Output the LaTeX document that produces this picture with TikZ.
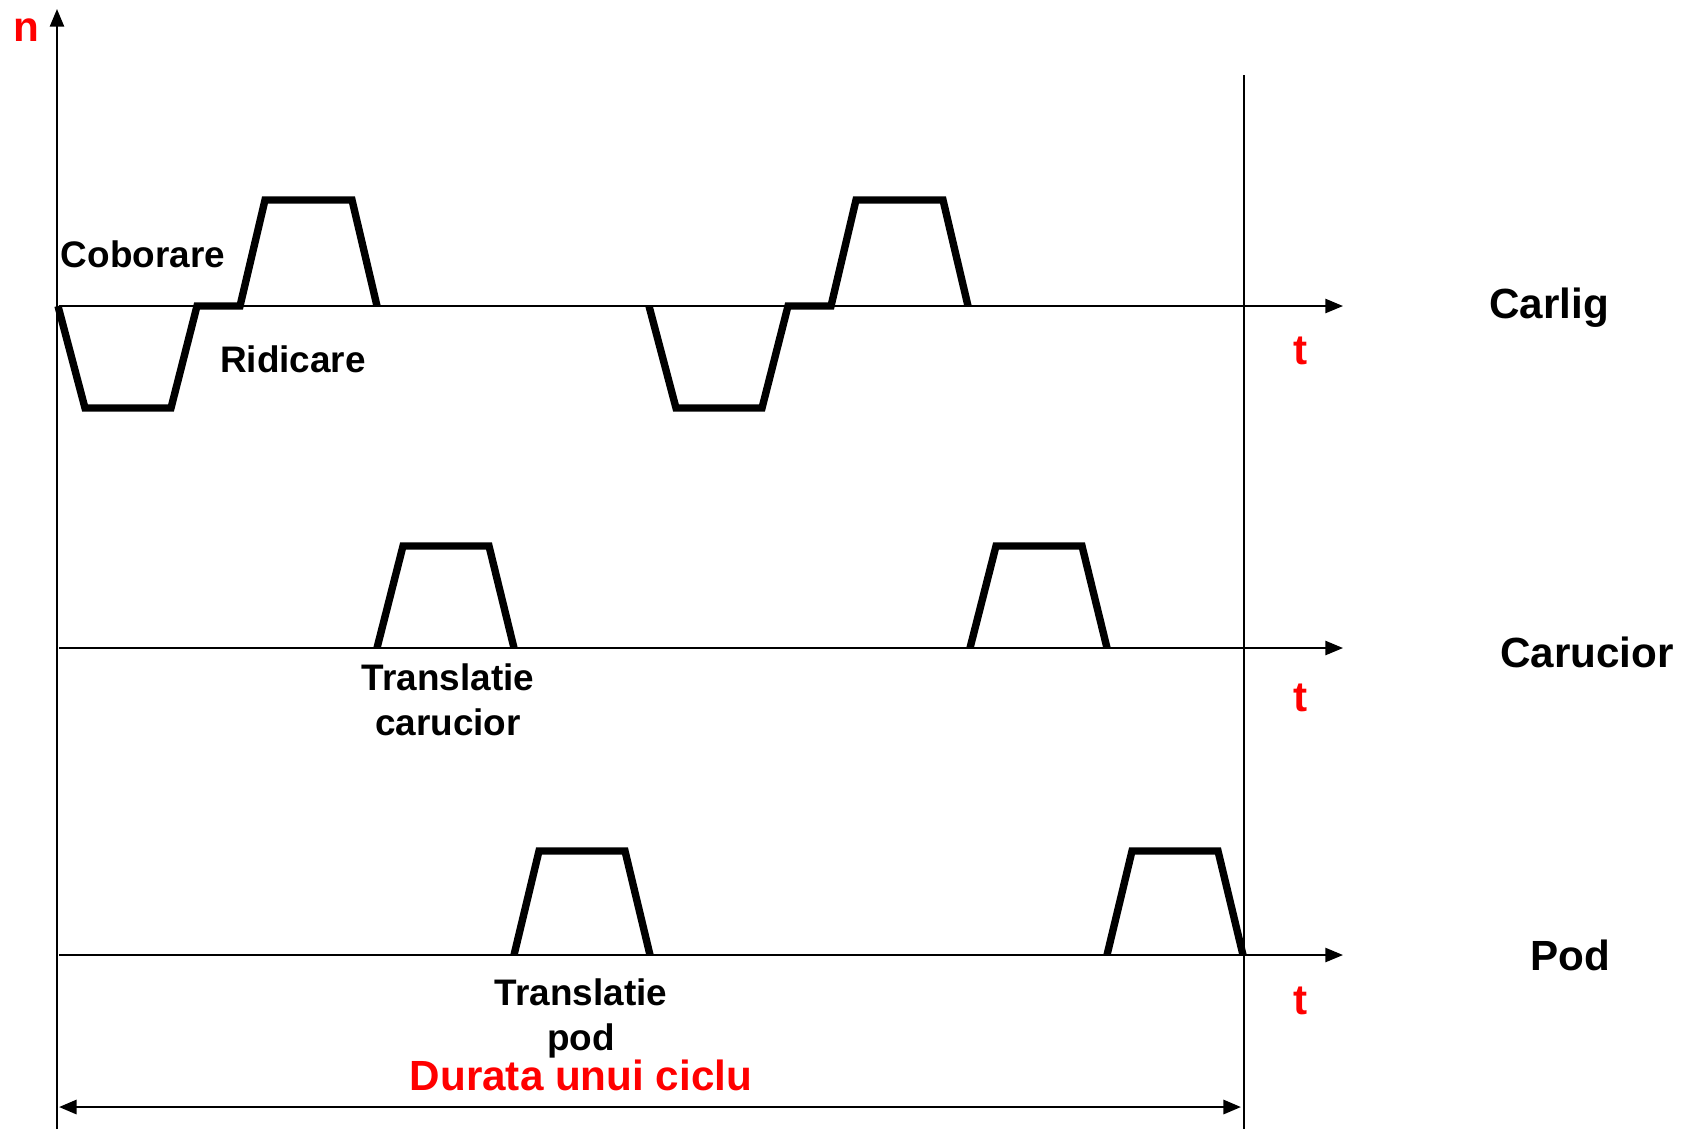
\documentclass[tikz,border=0pt]{standalone}
\usepackage{fontspec}
\setmainfont{Liberation Sans}
\usetikzlibrary{arrows.meta, positioning}

\begin{document}
\begin{tikzpicture}[x=0.01cm, y=-0.01cm,
      axis/.style = {line width=0.6pt, -{Triangle[length=5pt, width=4pt]}},
      wave/.style = {line width=2.1pt},
       lbl/.style = {font=\fontsize{10.5}{12.8}\selectfont\bfseries, align=center, inner sep=0pt},
     title/.style = {font=\fontsize{12}{14}\selectfont\bfseries, inner sep=0pt},
    redlbl/.style = {font=\fontsize{12}{14}\selectfont\bfseries, text=red, inner sep=0pt}]
  \useasboundingbox (0,0) rectangle (1685,1129);
  % axes
  \coordinate (o) at (57,1129);
  \coordinate (ntop) at (57,9);
  \draw[axis] (o) -- (ntop);
  \node[redlbl] (n) at (26,30) {n};
  \coordinate (e0) at (1244,75);
  \coordinate (e1) at (1244,1129);
  \draw[line width=0.5pt] (e0) -- (e1);
  \foreach \y/\nm in {306/carlig, 648/carucior, 955/pod} {
    \coordinate (\nm0) at (59,\y);
    \coordinate (\nm1) at (1343,\y);
    \draw[axis] (\nm0) -- (\nm1);
  }
  \node[redlbl] (t1) at (1301,351) {t};
  \node[redlbl] (t2) at (1301,698) {t};
  \node[redlbl] (t3) at (1301,1001) {t};
  \node[title] (carlig) at (1549,308) {Carlig};
  \node[title] (carucior) at (1587,652) {Carucior};
  \node[title] (pod) at (1570,955) {Pod};
  % waveforms
  \foreach \dx in {0,591} {
    \begin{scope}[shift={(\dx,0)}]
      \draw[wave] (58,306) -- (85,408) -- (171,408) -- (197,306) -- (240,306)
                  -- (265,200) -- (352,200) -- (377,306);
    \end{scope}
  }
  \foreach \dx in {0,593} {
    \begin{scope}[shift={(\dx,0)}]
      \draw[wave] (377,648) -- (403,546) -- (489,546) -- (514,648);
      \draw[wave] (514,955) -- (539,851) -- (625,851) -- (650,955);
    \end{scope}
  }
  \node[lbl] (cob) at (143,254) {Coborare};
  \node[lbl] (rid) at (293,359) {Ridicare};
  \node[lbl] (trc) at (448,700) {Translatie\\carucior};
  \node[lbl] (trp) at (581,1018) {Translatie\\pod};
  % cycle
  \node[redlbl] (dur) at (581,1075) {Durata unui ciclu};
  \coordinate (d0) at (59,1107);
  \coordinate (d1) at (1241,1107);
  \draw[line width=0.8pt, {Triangle[length=5pt, width=4pt]}-{Triangle[length=5pt, width=4pt]}] (d0) -- (d1);
\end{tikzpicture}
\end{document}
